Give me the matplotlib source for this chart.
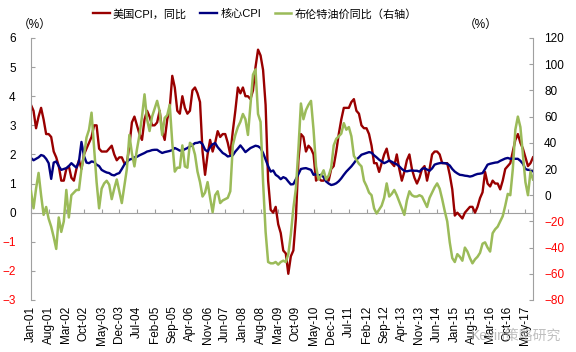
import numpy as np
import matplotlib
matplotlib.use("Agg")
import matplotlib.pyplot as plt

plt.rcParams['font.family'] = ['Liberation Sans', 'Noto Sans CJK SC', 'DejaVu Sans']

# ---- data (monthly, Jan-01 .. Aug-17) ----
cpi_yoy = [
    3.7, 3.5, 2.9, 3.3, 3.6, 3.2, 2.7, 2.7, 2.6, 2.1, 1.9, 1.6,
    1.1, 1.1, 1.5, 1.6, 1.2, 1.1, 1.5, 1.8, 1.5, 2.0, 2.2, 2.4,
    2.6, 3.0, 3.0, 2.2, 2.1, 2.1, 2.1, 2.2, 2.3, 2.0, 1.8, 1.9,
    1.9, 1.7, 1.7, 2.3, 3.1, 3.3, 3.0, 2.7, 2.5, 3.2, 3.5, 3.3,
    3.0, 3.0, 3.1, 3.5, 2.8, 2.5, 3.2, 3.6, 4.7, 4.3, 3.5, 3.4,
    4.0, 3.6, 3.4, 3.5, 4.2, 4.3, 4.1, 3.8, 2.1, 1.3, 2.0, 2.5,
    2.1, 2.4, 2.8, 2.6, 2.7, 2.7, 2.4, 2.0, 2.8, 3.5, 4.3, 4.1,
    4.3, 4.0, 4.0, 3.9, 4.2, 5.0, 5.6, 5.4, 4.9, 3.7, 1.1, 0.1,
    0.0, 0.2, -0.4, -0.7, -1.3, -1.4, -2.1, -1.5, -1.3, -0.2, 1.8, 2.7,
    2.6, 2.1, 2.3, 2.2, 2.0, 1.1, 1.2, 1.1, 1.1, 1.2, 1.1, 1.5,
    1.6, 2.1, 2.7, 3.2, 3.6, 3.6, 3.6, 3.8, 3.9, 3.5, 3.4, 3.0,
    2.9, 2.9, 2.7, 2.3, 1.7, 1.7, 1.4, 1.7, 2.0, 2.2, 1.8, 1.7,
    1.6, 2.0, 1.5, 1.1, 1.4, 1.8, 2.0, 1.5, 1.2, 1.0, 1.2, 1.5,
    1.6, 1.1, 1.5, 2.0, 2.1, 2.1, 2.0, 1.7, 1.7, 1.7, 1.3, 0.8,
    -0.1, 0.0, -0.1, -0.2, 0.0, 0.1, 0.2, 0.2, 0.0, 0.2, 0.5, 0.7,
    1.4, 1.0, 0.9, 1.1, 1.0, 1.0, 0.8, 1.1, 1.5, 1.6, 1.7, 2.1,
    2.5, 2.7, 2.4, 2.2, 1.9, 1.6, 1.7, 1.9,
]

core_cpi = [
    1.88, 1.80, 1.85, 1.90, 1.98, 1.95, 1.85, 1.70, 1.16, 1.72, 1.76, 1.60,
    1.47, 1.50, 1.53, 1.60, 1.70, 1.62, 1.55, 1.75, 2.43, 1.95, 1.72, 1.70,
    1.76, 1.74, 1.65, 1.60, 1.47, 1.42, 1.38, 1.36, 1.30, 1.28, 1.33, 1.36,
    1.50, 1.65, 1.75, 1.82, 1.85, 1.90, 1.92, 1.97, 2.01, 2.05, 2.10, 2.12,
    2.15, 2.16, 2.16, 2.10, 2.05, 2.08, 2.10, 2.12, 2.15, 2.22, 2.18, 2.13,
    2.13, 2.18, 2.22, 2.28, 2.32, 2.39, 2.40, 2.43, 2.35, 2.16, 2.10, 2.25,
    2.35, 2.39, 2.25, 2.15, 2.05, 2.00, 1.93, 1.95, 1.97, 2.10, 2.20, 2.31,
    2.20, 2.08, 2.15, 2.22, 2.26, 2.30, 2.28, 2.22, 2.05, 1.82, 1.60, 1.41,
    1.45, 1.30, 1.24, 1.15, 1.22, 1.18, 1.07, 0.97, 0.98, 1.15, 1.32, 1.50,
    1.52, 1.53, 1.50, 1.47, 1.30, 1.32, 1.28, 1.30, 1.22, 1.07, 1.00, 0.95,
    0.97, 1.01, 1.08, 1.18, 1.30, 1.41, 1.50, 1.59, 1.70, 1.82, 1.90, 1.99,
    2.02, 2.05, 2.08, 2.06, 1.97, 1.90, 1.82, 1.76, 1.70, 1.74, 1.79, 1.75,
    1.70, 1.66, 1.59, 1.50, 1.44, 1.42, 1.44, 1.45, 1.44, 1.44, 1.41, 1.50,
    1.53, 1.48, 1.44, 1.52, 1.65, 1.68, 1.70, 1.71, 1.70, 1.68, 1.62, 1.50,
    1.41, 1.35, 1.30, 1.29, 1.27, 1.26, 1.24, 1.26, 1.30, 1.33, 1.34, 1.36,
    1.50, 1.65, 1.68, 1.70, 1.72, 1.73, 1.78, 1.82, 1.86, 1.88, 1.85, 1.86,
    1.85, 1.85, 1.78, 1.68, 1.50, 1.47, 1.47, 1.42,
]

brent_yoy = [
    3, -10, 5, 17, 0, -15, -9, -18, -24, -32, -41, -17,
    -28, -20, 4, -17, 0, 2, 4, 4, 20, 30, 44, 50,
    63, 36, 10, -10, 5, 9, 11, 8, -3, 5, 12, 3,
    -6, 7, 20, 46, 32, 22, 35, 46, 60, 77, 58, 49,
    60, 66, 72, 64, 46, 59, 61, 69, 40, 18, 21, 21,
    38, 22, 21, 40, 38, 31, 18, 10, -1, 2, 10, -2,
    -13, 0, 3, -6, -4, -3, -2, 3, 38, 46, 52, 56,
    62, 58, 46, 69, 92, 96, 62, 56, 10, -28, -51, -52,
    -52, -51, -53, -51, -50, -51, -45, -30, -10, 5, 35, 70,
    58, 65, 69, 72, 50, 22, 12, 15, 19, 12, 15, 21,
    38, 43, 45, 47, 55, 50, 52, 45, 30, 27, 24, 22,
    11, 7, 2, 0, -10, -14, -11, -8, -2, 9, -1, 1,
    4, 0, -5, -10, -15, -4, 3, 0, -1, -1, 0, -1,
    -5, -9, -2, 2, 6, 9, 5, -3, -12, -20, -36, -48,
    -51, -45, -47, -50, -40, -43, -48, -52, -49, -47, -44, -37,
    -36, -40, -43, -29, -26, -24, -20, -16, -8, 1, 0, 20,
    50, 60, 52, 31, 10, 0, 18, 12,
]

tick_labels = ['Jan-01', 'Aug-01', 'Mar-02', 'Oct-02', 'May-03', 'Dec-03', 'Jul-04',
               'Feb-05', 'Sep-05', 'Apr-06', 'Nov-06', 'Jun-07', 'Jan-08', 'Aug-08',
               'Mar-09', 'Oct-09', 'May-10', 'Dec-10', 'Jul-11', 'Feb-12', 'Sep-12',
               'Apr-13', 'Nov-13', 'Jun-14', 'Jan-15', 'Aug-15', 'Mar-16', 'Oct-16',
               'May-17']
tick_step = 7

series_names = ['美国CPI，同比', '核心CPI', '布伦特油价同比（右轴）']

# ---- figure ----
RED = '#990000'
BLUE = '#000080'
GREEN = '#9BBB59'
AXC = '#A0A0A0'

fig = plt.figure(figsize=(5.76, 3.52), dpi=100)
ax = fig.add_axes([31/576, 1 - 300/352, (533 - 31)/576, (300 - 38)/352])
ax2 = ax.twinx()

x = np.arange(len(cpi_yoy))
l1, = ax.plot(x, cpi_yoy, color=RED, lw=1.7, label=series_names[0])
l2, = ax.plot(x, core_cpi, color=BLUE, lw=1.7, label=series_names[1])
l3, = ax2.plot(x, brent_yoy, color=GREEN, lw=1.8, label=series_names[2])

ax.set_xlim(0, len(cpi_yoy) - 1)
ax.set_ylim(-3, 6)
ax2.set_ylim(-80, 120)
ax.set_yticks(np.arange(-3, 7, 1))
ax2.set_yticks(np.arange(-80, 121, 20))

for a in (ax, ax2):
    for s in a.spines.values():
        s.set_visible(False)
ax.spines['left'].set_visible(True)
ax.spines['left'].set_color(AXC)
ax2.spines['right'].set_visible(True)
ax2.spines['right'].set_color(AXC)

ax.tick_params(axis='y', direction='in', length=3, color=AXC, labelsize=8.5, pad=11)
ax2.tick_params(axis='y', direction='in', length=3, color=AXC, labelsize=8.5, pad=8)

for lab, v in zip(ax.get_yticklabels(), ax.get_yticks()):
    lab.set_color('red' if v < 0 else 'black')
for lab, v in zip(ax2.get_yticklabels(), ax2.get_yticks()):
    lab.set_color('red' if v < 0 else 'black')

xt = np.arange(0, len(cpi_yoy), tick_step)[:len(tick_labels)]
ax.set_xticks(xt)
ax.set_xticklabels(tick_labels, rotation=90, fontsize=8.5)
ax.tick_params(axis='x', length=0, pad=4)

# zero line with tick marks
sec = ax.secondary_xaxis(1/3)
sec.set_xticks(xt)
sec.tick_params(axis='x', direction='in', length=3, color=AXC, labelbottom=False, labeltop=False)
for s in sec.spines.values():
    s.set_color(AXC)

fig.text(35/576, 1 - 25/352, '（%）', fontsize=8.5, ha='center', va='center')
fig.text(481/576, 1 - 25/352, '（%）', fontsize=8.5, ha='center', va='center')

fig.legend(handles=[l1, l2, l3], loc='center', bbox_to_anchor=(255/576, 1 - 14/352),
           ncol=3, frameon=False, fontsize=8, handlelength=1.5, handletextpad=0.3,
           columnspacing=1.2)

fig.text(0.975, 0.045, 'Kevin策略研究', fontsize=10, color='#B0B0B0', alpha=0.8,
         ha='right', va='center', zorder=0)

fig.savefig('out.png', dpi=100)
